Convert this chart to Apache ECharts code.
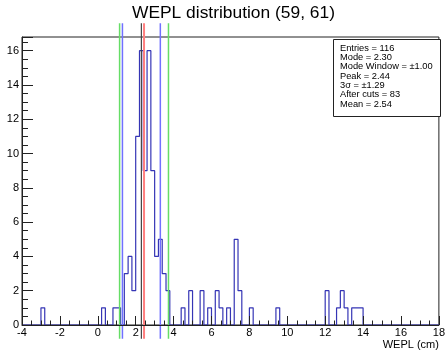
<!DOCTYPE html>
<html>
<head>
<meta charset="utf-8">
<script src="https://cdn.jsdelivr.net/npm/echarts@6/dist/echarts.min.js"></script>
<style>
html, body { margin: 0; padding: 0; background: #fff; }
#chart { width: 448px; height: 354px; }
</style>
</head>
<body>
<div id="chart"></div>
<script>
// histogram bins (0.2 cm wide), only non-empty bins listed
const binWidth = 0.2
const binStarts = [-3.0, 0.2, 0.8, 1.0, 1.4, 1.6, 1.8, 2.0, 2.2, 2.4, 2.6, 2.8, 3.0, 3.2, 3.4, 3.6,
  4.4, 4.8, 5.4, 5.8, 6.2, 6.4, 6.8, 7.2, 7.4, 8.0, 9.4, 12.0, 12.6, 12.8, 13.0, 13.4, 13.6, 13.8]
const binCounts = [1, 1, 1, 1, 3, 4, 2, 11, 16, 9, 16, 9, 4, 5, 3, 2,
  1, 2, 2, 1, 2, 1, 1, 5, 2, 1, 1, 2, 1, 2, 1, 1, 1, 1]
const xRange = [-4, 18]
const yRange = [0, 16.8]

// marker lines
const modeValue = 2.30
const peakValue = 2.44
const windowLines = [1.30, 3.30]
const sigmaLines = [1.15, 3.73]
const lineSpan = [-0.8, 17.6]

const statLines = ['Entries = 116', 'Mode = 2.30', 'Mode Window = \u00b11.00', 'Peak = 2.44',
  '3\u03c3 = \u00b11.29', 'After cuts = 83', 'Mean = 2.54']

const font = '"Liberation Sans", Arial, Helvetica, sans-serif'

// step outline of the histogram
const countMap = {}
binStarts.forEach((s, i) => { countMap[Math.round(s * 10)] = binCounts[i] })
const outline = []
const nBins = Math.round((xRange[1] - xRange[0]) / binWidth)
for (let b = 0; b < nBins; b++) {
  const lo = xRange[0] + b * binWidth
  const c = countMap[Math.round(lo * 10)] || 0
  outline.push([+lo.toFixed(2), c], [+(lo + binWidth).toFixed(2), c])
}

function vline(x, color, width, z) {
  return {
    type: 'line',
    data: [[x, lineSpan[0]], [x, lineSpan[1]]],
    showSymbol: false,
    clip: false,
    silent: true,
    z: z,
    lineStyle: { color: color, width: width }
  }
}

const series = [{
  type: 'line',
  data: outline,
  showSymbol: false,
  silent: true,
  z: 2,
  lineStyle: { color: '#3535b5', width: 1.2 }
}]
sigmaLines.forEach(v => series.push(vline(v, '#66dd66', 1.5, 3)))
windowLines.forEach(v => series.push(vline(v, '#7070ff', 1.5, 3)))
series.push(vline(modeValue, '#444444', 1.2, 4))
series.push(vline(peakValue, '#ff8080', 2, 3))

const option = {
  animation: false,
  backgroundColor: '#fff',
  title: {
    text: 'WEPL distribution (59, 61)',
    left: 132,
    top: 4.5,
    padding: 0,
    textStyle: { fontFamily: font, fontSize: 17.4, fontWeight: 'normal', color: '#000' }
  },
  grid: {
    left: 22, right: 2, top: 37, bottom: 29,
    show: true, borderColor: '#222', borderWidth: 1, backgroundColor: '#fff'
  },
  xAxis: [{
    type: 'value',
    min: xRange[0], max: xRange[1], interval: 2,
    z: 10,
    name: 'WEPL (cm)',
    nameLocation: 'end',
    nameGap: 0,
    nameTextStyle: { fontFamily: font, fontSize: 11, color: '#000', align: 'right', verticalAlign: 'top', padding: [14, 0, 0, 0] },
    axisLine: { onZero: false, lineStyle: { color: '#222', width: 1 } },
    axisTick: { inside: true, length: 9, lineStyle: { color: '#222' } },
    minorTick: { show: true, splitNumber: 4, length: 4.5, lineStyle: { color: '#222' } },
    splitLine: { show: false },
    axisLabel: { fontFamily: font, fontSize: 11, color: '#000', margin: 2 }
  }],
  yAxis: [{
    type: 'value',
    min: yRange[0], max: yRange[1], interval: 2,
    z: 10,
    axisLine: { show: true, onZero: false, lineStyle: { color: '#222', width: 1 } },
    axisTick: { show: true, inside: true, length: 11, lineStyle: { color: '#222' } },
    minorTick: { show: true, splitNumber: 4, length: 6, lineStyle: { color: '#222' } },
    splitLine: { show: false },
    axisLabel: { fontFamily: font, fontSize: 11, color: '#000', margin: 3, showMaxLabel: false }
  }],
  graphic: [{
    type: 'group',
    z: 20,
    children: [{
      type: 'rect',
      shape: { x: 333.5, y: 39.5, width: 107, height: 77 },
      style: { fill: '#fff', stroke: '#222', lineWidth: 1 }
    }, {
      type: 'text',
      x: 340, y: 43.5,
      style: { text: statLines.join('\n'), font: '9.3px ' + font, lineHeight: 9.3, fill: '#000' }
    }]
  }],
  series: series
}

const myChart = echarts.init(document.getElementById('chart'))
myChart.setOption(option, true)
</script>
</body>
</html>
